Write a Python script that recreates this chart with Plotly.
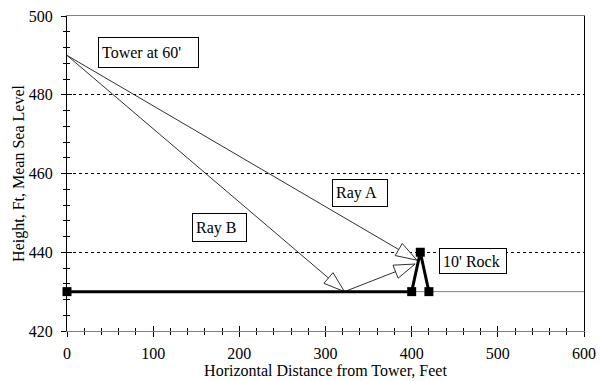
import math
import plotly.graph_objects as go

# ---------------- data ----------------
dist_ground = [0, 400, 410, 420]
elev_ground = [430, 430, 440, 430]
dist_ref = [0, 600]
elev_ref = [430, 430]
dist_ray_a = [0, 406]
elev_ray_a = [490, 438]
dist_ray_b = [0, 322, 404]
elev_ray_b = [490, 430, 437]
label_text = ["Tower at 60'", "Ray A", "Ray B", "10' Rock"]
label_x = [94.5, 340.6, 176.8, 471.0]
label_y = [490.7, 455.0, 446.3, 437.8]
x_ticks = [0, 100, 200, 300, 400, 500, 600]
y_ticks = [420, 440, 460, 480, 500]

# ---------------- layout constants ----------------
W, H = 601, 381
ML, MR, MT, MB = 67, 17, 16, 50
XR = [0, 600]
YR = [420, 500]
sx = (W - ML - MR) / (XR[1] - XR[0])
sy = (H - MT - MB) / (YR[1] - YR[0])
FONT = "Liberation Serif"


def arrow_head(x0, y0, x1, y1, length=21, half=7):
    dx = (x1 - x0) * sx
    dy = (y1 - y0) * sy
    n = math.hypot(dx, dy)
    ux, uy = dx / n, dy / n
    bx, by = -length * ux, -length * uy
    nx, ny = -uy * half, ux * half
    pts = [(0, 0), (bx + nx, by + ny), (bx - nx, by - ny), (0, 0)]
    xs = [x1 + p[0] / sx for p in pts]
    ys = [y1 + p[1] / sy for p in pts]
    return xs, ys


fig = go.Figure()

fig.add_trace(go.Scatter(x=dist_ref, y=elev_ref, mode="lines",
                         line=dict(color="#808080", width=1), hoverinfo="skip"))

ray_col = "#303030"
for xs, ys in [(dist_ray_a, elev_ray_a), (dist_ray_b, elev_ray_b)]:
    fig.add_trace(go.Scatter(x=xs, y=ys, mode="lines",
                             line=dict(color=ray_col, width=1), hoverinfo="skip"))

heads = [
    (dist_ray_a[0], elev_ray_a[0], dist_ray_a[1], elev_ray_a[1]),
    (dist_ray_b[0], elev_ray_b[0], dist_ray_b[1], elev_ray_b[1]),
    (dist_ray_b[1], elev_ray_b[1], dist_ray_b[2], elev_ray_b[2]),
]
for h in heads:
    hx, hy = arrow_head(*h)
    fig.add_trace(go.Scatter(x=hx, y=hy, mode="lines", fill="toself",
                             fillcolor="white",
                             line=dict(color=ray_col, width=1), hoverinfo="skip"))

fig.add_trace(go.Scatter(x=dist_ground, y=elev_ground, mode="lines+markers",
                         line=dict(color="black", width=3),
                         marker=dict(symbol="square", size=9, color="black"),
                         cliponaxis=False, hoverinfo="skip"))

# dummy trace for overlay axes (inner tick halves)
fig.add_trace(go.Scatter(x=[None], y=[None], xaxis="x2", yaxis="y2",
                         showlegend=False, hoverinfo="skip"))

box_w = [101, 56, 55, 68]
box_h = [31, 28, 29, 26]
for t, x, y, bw, bh in zip(label_text, label_x, label_y, box_w, box_h):
    fig.add_annotation(x=x, y=y, xref="x", yref="y", text=t, showarrow=False,
                       font=dict(family=FONT, size=16, color="black"),
                       bgcolor="white", bordercolor="black", borderwidth=1,
                       borderpad=3, width=bw - 8, height=bh - 8, align="left")

tickfont = dict(family=FONT, size=16, color="black")
fig.update_layout(
    width=W, height=H,
    margin=dict(l=ML, r=MR, t=MT, b=MB, autoexpand=False),
    paper_bgcolor="white", plot_bgcolor="white",
    showlegend=False,
    font=dict(family=FONT, size=16, color="black"),
    xaxis=dict(range=XR, tickvals=x_ticks, showgrid=False, zeroline=False,
               automargin=False,
               showline=True, linecolor="#808080", linewidth=1, mirror=True,
               ticks="outside", ticklen=5, tickcolor="black", tickwidth=1,
               minor=dict(dtick=20, ticks="outside", ticklen=3, tickcolor="black", showgrid=False),
               tickfont=tickfont, ticklabelstandoff=3,
               title=dict(text="Horizontal Distance from Tower, Feet",
                          font=dict(family=FONT, size=16, color="black"), standoff=3)),
    yaxis=dict(range=YR, tickvals=y_ticks, showgrid=True, gridcolor="black",
               gridwidth=1, griddash="3px,3px", zeroline=False,
               automargin=False,
               showline=True, linecolor="black", linewidth=1, mirror=True,
               ticks="outside", ticklen=5, tickcolor="black", tickwidth=1,
               minor=dict(dtick=4, ticks="outside", ticklen=3, tickcolor="black", showgrid=False),
               tickfont=tickfont, ticklabelstandoff=5,
               title=dict(text="Height, Ft, Mean Sea Level",
                          font=dict(family=FONT, size=16, color="black"), standoff=0)),
    xaxis2=dict(range=XR, overlaying="x", anchor="y2", side="bottom", tickvals=x_ticks,
                automargin=False,
                showticklabels=False, showgrid=False, zeroline=False, showline=False,
                ticks="inside", ticklen=5, tickcolor="black",
                minor=dict(dtick=20, ticks="inside", ticklen=3, tickcolor="black", showgrid=False)),
    yaxis2=dict(range=YR, overlaying="y", anchor="x2", side="left", tickvals=y_ticks,
                automargin=False,
                showticklabels=False, showgrid=False, zeroline=False, showline=False,
                ticks="inside", ticklen=5, tickcolor="black",
                minor=dict(dtick=4, ticks="inside", ticklen=3, tickcolor="black", showgrid=False)),
)

fig.write_html("out.html", config={"displayModeBar": False},
               post_script="document.body.style.margin='0';document.body.style.overflow='hidden';")
